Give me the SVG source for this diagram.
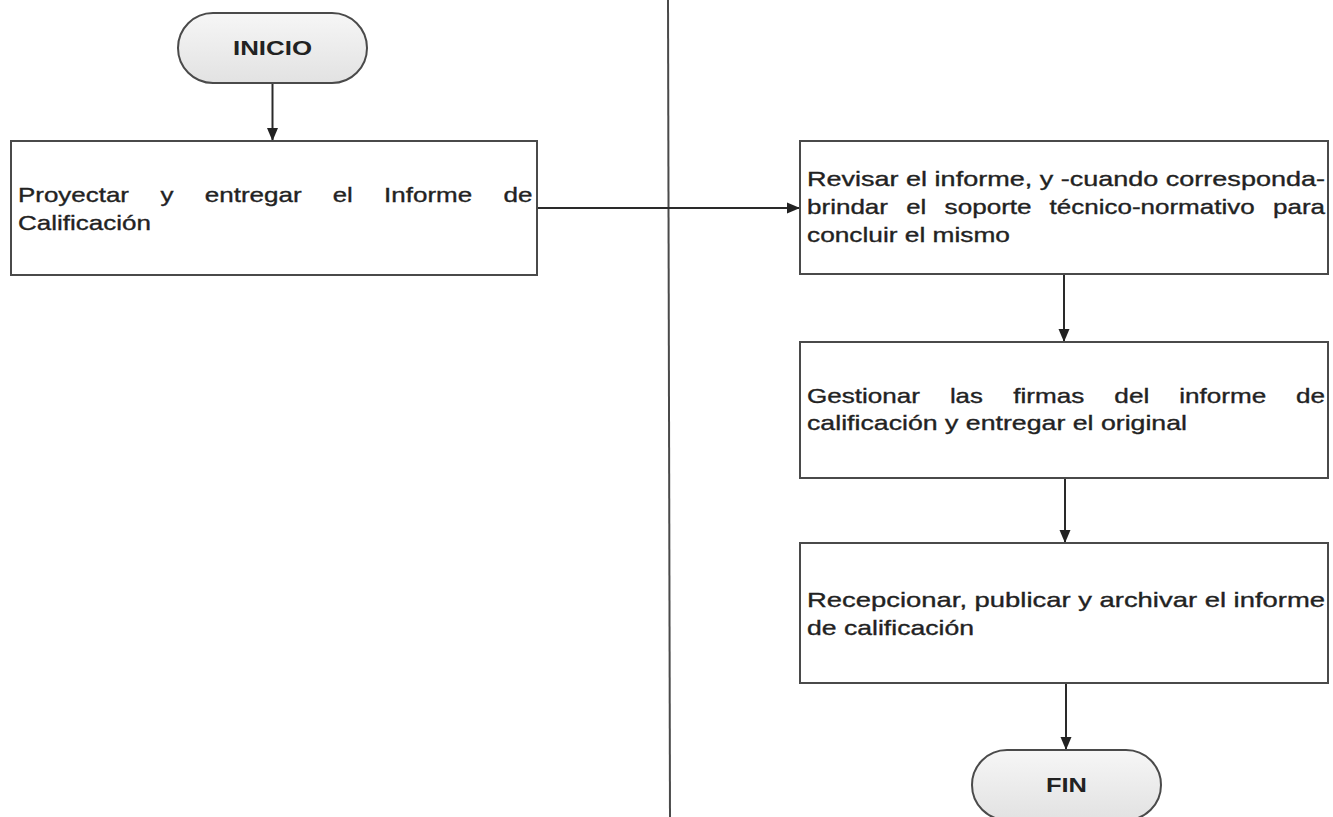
<svg xmlns="http://www.w3.org/2000/svg" width="1333" height="817" viewBox="0 0 1333 817">
  <defs>
    <linearGradient id="termFill" x1="0" y1="0" x2="0" y2="1">
      <stop offset="0" stop-color="#f6f6f6"/>
      <stop offset="1" stop-color="#e2e2e2"/>
    </linearGradient>
    <marker id="arrow" markerUnits="userSpaceOnUse" markerWidth="14" markerHeight="14" refX="13" refY="7" orient="auto">
      <path d="M0,1.5 L13,7 L0,12.5 Z" fill="#222"/>
    </marker>
    <style>
      .term { fill: url(#termFill); stroke: #4a4a4a; stroke-width: 2; }
      .box { fill: #ffffff; stroke: #4a4a4a; stroke-width: 2; }
      .lbl { font-family: "Liberation Sans", Arial, sans-serif; font-size: 21px; fill: #222; stroke: #222; stroke-width: 0.35px; }
      .tlbl { font-family: "Liberation Sans", Arial, sans-serif; font-size: 20px; font-weight: bold; fill: #222; text-anchor: middle; }
      .conn { stroke: #2a2a2a; stroke-width: 2; fill: none; }
      .lane { stroke: #4a4a4a; stroke-width: 2; }
    </style>
  </defs>

  <rect width="1333" height="817" fill="#ffffff"/>

  <!-- swimlane divider -->
  <line class="lane" x1="668" y1="0" x2="670" y2="817"/>

  <!-- connectors -->
  <g id="connectors">
    <line class="conn" x1="272.5" y1="83" x2="272.5" y2="141" marker-end="url(#arrow)"/>
    <line class="conn" x1="537" y1="208" x2="800" y2="208" marker-end="url(#arrow)"/>
    <line class="conn" x1="1064" y1="274" x2="1064" y2="342" marker-end="url(#arrow)"/>
    <line class="conn" x1="1065" y1="478" x2="1065" y2="543" marker-end="url(#arrow)"/>
    <line class="conn" x1="1066" y1="683" x2="1066" y2="750" marker-end="url(#arrow)"/>
  </g>

  <!-- start terminal -->
  <g id="inicio">
    <rect class="term" x="178" y="13" width="189" height="70" rx="35" ry="35"/>
    <text class="tlbl" x="272.5" y="55" textLength="79" lengthAdjust="spacingAndGlyphs">INICIO</text>
  </g>

  <!-- step 1 -->
  <g id="proyectar">
    <rect class="box" x="11" y="141" width="526" height="134"/>
    <text class="lbl" y="202">
      <tspan x="18" textLength="111" lengthAdjust="spacingAndGlyphs">Proyectar</tspan>
      <tspan x="160.5" textLength="13" lengthAdjust="spacingAndGlyphs">y</tspan>
      <tspan x="204.7" textLength="97" lengthAdjust="spacingAndGlyphs">entregar</tspan>
      <tspan x="332.7" textLength="20" lengthAdjust="spacingAndGlyphs">el</tspan>
      <tspan x="384.1" textLength="88" lengthAdjust="spacingAndGlyphs">Informe</tspan>
      <tspan x="503.4" textLength="29" lengthAdjust="spacingAndGlyphs">de</tspan>
    </text>
    <text class="lbl" x="18" y="230" textLength="133" lengthAdjust="spacingAndGlyphs">Calificación</text>
  </g>

  <!-- step 2 -->
  <g id="revisar">
    <rect class="box" x="800" y="141" width="528" height="133"/>
    <text class="lbl" x="807" y="186" textLength="518" lengthAdjust="spacingAndGlyphs">Revisar el informe, y -cuando corresponda-</text>
    <text class="lbl" y="214">
      <tspan x="807" textLength="81" lengthAdjust="spacingAndGlyphs">brindar</tspan>
      <tspan x="906.2" textLength="20" lengthAdjust="spacingAndGlyphs">el</tspan>
      <tspan x="944.6" textLength="87" lengthAdjust="spacingAndGlyphs">soporte</tspan>
      <tspan x="1049.6" textLength="205" lengthAdjust="spacingAndGlyphs">técnico-normativo</tspan>
      <tspan x="1273" textLength="52" lengthAdjust="spacingAndGlyphs">para</tspan>
    </text>
    <text class="lbl" x="807" y="242" textLength="203" lengthAdjust="spacingAndGlyphs">concluir el mismo</text>
  </g>

  <!-- step 3 -->
  <g id="gestionar">
    <rect class="box" x="800" y="342" width="528" height="136"/>
    <text class="lbl" y="403">
      <tspan x="807" textLength="113" lengthAdjust="spacingAndGlyphs">Gestionar</tspan>
      <tspan x="949.9" textLength="33" lengthAdjust="spacingAndGlyphs">las</tspan>
      <tspan x="1013.3" textLength="71" lengthAdjust="spacingAndGlyphs">firmas</tspan>
      <tspan x="1114.3" textLength="35" lengthAdjust="spacingAndGlyphs">del</tspan>
      <tspan x="1179.2" textLength="87" lengthAdjust="spacingAndGlyphs">informe</tspan>
      <tspan x="1296.1" textLength="29" lengthAdjust="spacingAndGlyphs">de</tspan>
    </text>
    <text class="lbl" x="807" y="430" textLength="380" lengthAdjust="spacingAndGlyphs">calificación y entregar el original</text>
  </g>

  <!-- step 4 -->
  <g id="recepcionar">
    <rect class="box" x="800" y="543" width="528" height="140"/>
    <text class="lbl" x="807" y="607" textLength="518" lengthAdjust="spacingAndGlyphs">Recepcionar, publicar y archivar el informe</text>
    <text class="lbl" x="807" y="635" textLength="167" lengthAdjust="spacingAndGlyphs">de calificación</text>
  </g>

  <!-- end terminal -->
  <g id="fin">
    <rect class="term" x="972" y="750" width="189" height="70" rx="35" ry="35"/>
    <text class="tlbl" x="1066.5" y="792" textLength="41" lengthAdjust="spacingAndGlyphs">FIN</text>
  </g>
</svg>
